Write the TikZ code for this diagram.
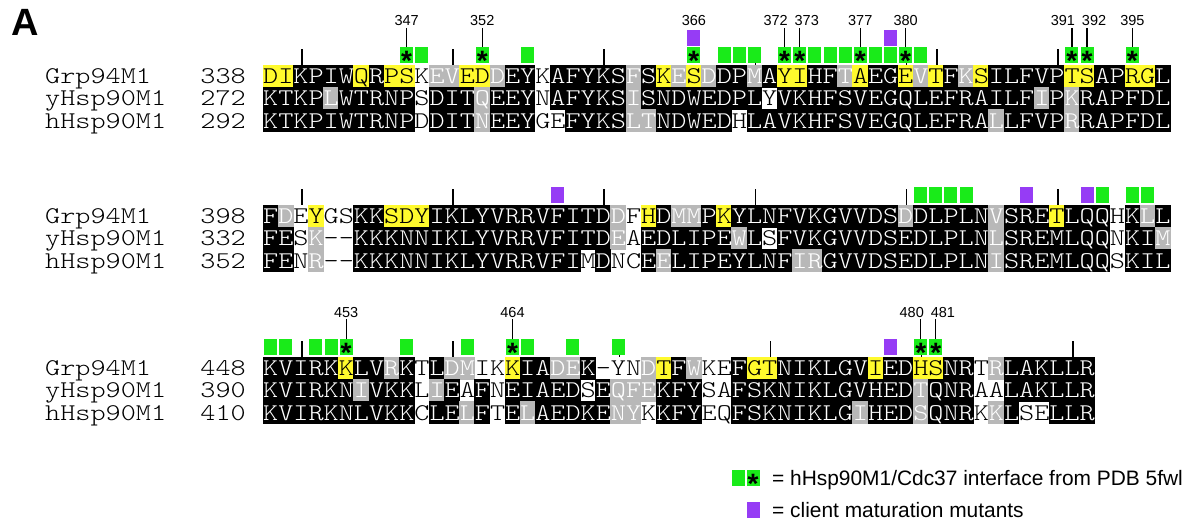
\documentclass[tikz,border=0pt]{standalone}
\usepackage{fontspec}
\setmainfont{Liberation Sans}
\newfontfamily\sansfam{Liberation Sans}
\newfontfamily\seqfam{lmmonolt10-regular.otf}[FakeStretch=1.2]
\definecolor{cgreen}{RGB}{25,235,25}
\definecolor{cpurple}{RGB}{150,60,245}
\definecolor{cgray}{RGB}{184,184,184}
\definecolor{cyel}{RGB}{255,250,45}

\makeatletter
\newcount\seqci
\newtoks\seqtoks
\def\seqcw{15.12}
\def\seqrh{22.3}
\def\seqbase{18.5}
\newcommand\seqrow[5]{%
  \seqci=0 \seqtoks={}%
  \def\seq@x{#2}\def\seq@t{#3}%
  \seq@loop#4\relax#5\relax
  \node[seqtext] (#1) at (#2,#3+\seqbase) {\the\seqtoks};%
}
\def\seq@loop#1#2\relax#3#4\relax{%
  \seq@cell{#1}{#3}%
  \advance\seqci by 1
  \ifx\relax#2\relax\expandafter\@gobble\else\expandafter\@firstofone\fi
  {\seq@loop#2\relax#4\relax}}
\def\seq@cell#1#2{%
  \pgfmathsetmacro\seq@cx{\seq@x+\the\seqci*\seqcw}%
  \ifx#2K\fill[black] (\seq@cx-0.3,\seq@t-0.3) rectangle ++(\seqcw+0.6,\seqrh+0.6);%
    \seqtoks=\expandafter{\the\seqtoks\textcolor{white}{#1}}\fi
  \ifx#2G\fill[cgray] (\seq@cx-0.3,\seq@t-0.3) rectangle ++(\seqcw+0.6,\seqrh+0.6);%
    \seqtoks=\expandafter{\the\seqtoks\textcolor{white}{#1}}\fi
  \ifx#2Y\fill[cyel] (\seq@cx-0.3,\seq@t-0.3) rectangle ++(\seqcw+0.6,\seqrh+0.6);%
    \seqtoks=\expandafter{\the\seqtoks\textcolor{black}{#1}}\fi
  \ifx#2W\seqtoks=\expandafter{\the\seqtoks\textcolor{black}{#1}}\fi
}
\makeatother
\newcommand\xc[1]{263+(#1+0.5)*15.12}
\newcommand\starglyph{\raisebox{-15.5pt}[5pt][5pt]{*}}

\tikzset{
  seqtext/.style={font=\seqfam\fontsize{24}{24}\selectfont, inner sep=0, anchor=base west},
  gbox/.style={fill=cgreen, minimum width=13pt, minimum height=16pt, inner sep=0},
  pbox/.style={fill=cpurple, minimum width=13pt, minimum height=16pt, inner sep=0},
  tickmark/.style={line width=1.5pt, black},
  lblline/.style={line width=1.2pt, black, shorten <=1.5pt},
  lbl/.style={font=\sansfam\fontsize{14.5}{14.5}\selectfont, inner sep=0},
  starsym/.style={font=\sansfam\bfseries\fontsize{28}{28}\selectfont, inner sep=0, anchor=center},
  legtext/.style={font=\sansfam\fontsize{20.9}{20.9}\selectfont, inner sep=0, anchor=base west},
}

\begin{document}
\begin{tikzpicture}[x=1pt,y=-1pt]
\useasboundingbox (0,0) rectangle (1201,523);
\fill[white] (0,0) rectangle (1201,523);

\node[font=\sansfam\bfseries\fontsize{38}{38}\selectfont, inner sep=0, anchor=base west] (panelA) at (11,35) {A};

% ---------- Block 1 (top 65) ----------
\foreach \i in {2,12,22,32,42,44,52} \draw[tickmark] ({\xc{\i}+1},49) -- ({\xc{\i}+1},65);
\seqrow{s1a}{263}{65}{DIKPIWQRPSKEVEDDEYKAFYKSFSKESDDPMAYIHFTAEGEVTFKSILFVPTSAPRGL}{YYKKKKYKYYWGGYYGKKWKKKKKGKYGYGKKGKYYKKGYKKYGYKGYKKKKKYYKKYYK}
\seqrow{s1b}{263}{87.3}{KTKPLWTRNPSDITQEEYNAFYKSISNDWEDPLYVKHFSVEGQLEFRAILFIPKRAPFDL}{KKKKGKKKKKWKKKGKKKWKKKKKGKKKKKKKKWKKKKKKKKKKKKKKKKKGKGKKKKKK}
\seqrow{s1c}{263}{109.6}{KTKPIWTRNPDDITNEEYGEFYKSLTNDWEDHLAVKHFSVEGQLEFRALLFVPRRAPFDL}{KKKKKKKKKKWKKKGKKKWWKKKKGGKKKKKWKKKKKKKKKKKKKKKKGKKKKGKKKKKK}
\node[seqtext] (n1a) at (45,83.5) {Grp94M1};
\node[seqtext] (n1b) at (45,105.8) {yHsp90M1};
\node[seqtext] (n1c) at (45,128.1) {hHsp90M1};
\node[seqtext,anchor=base east] (r1a) at (246,83.5) {338};
\node[seqtext,anchor=base east] (r1b) at (246,105.8) {272};
\node[seqtext,anchor=base east] (r1c) at (246,128.1) {292};

\foreach \i in {10,17,30,31,32,36,37,38,40,41,43} \node[gbox] (g1-\i) at ({\xc{\i}},55) {};
\foreach \i in {9,14,28,34,35,39,42,53,54,57} {
  \node[gbox] (g1-\i) at ({\xc{\i}},55) {};
  \node[starsym] (s1-\i) at (g1-\i.center) {\starglyph};
}
\foreach \i in {28,41} \node[pbox] (p1-\i) at ({\xc{\i}},37.5) {};

\foreach \n/\i/\d in {347/9/0,352/14/0,366/28/0,372/34/-9,373/35/7,377/39/0,380/42/0,391/53/-9,392/54/7,395/57/0}
  \node[lbl] (l\n) at ({\xc{\i}+\d},21) {\n};
\foreach \n/\i in {347/9,352/14,372/34,373/35,377/39,380/42,391/53,392/54,395/57}
  \draw[lblline] (g1-\i.north |- l\n.south) -- (g1-\i.north);

% ---------- Block 2 (top 205) ----------
\foreach \i in {2,12,22,32,42,52} \draw[tickmark] ({\xc{\i}+1},189) -- ({\xc{\i}+1},205);
\seqrow{s2a}{263}{205}{FDEYGSKKSDYIKLYVRRVFITDDFHDMMPKYLNFVKGVVDSDDLPLNVSRETLQQHKLL}{KGWYWWKKYYYKKKKKKKKKKKKGWYKGGKYKKKKKKKKKKKGKKKKKGKKKYKKKWKGK}
\seqrow{s2b}{263}{227.3}{FESK--KKKNNIKLYVRRVFITDEAEDLIPEWLSFVKGVVDSEDLPLNLSREMLQQNKIM}{KKWGWWKKKKKKKKKKKKKKKKKGWKKKKKKGKWKKKKKKKKKKKKKKGKKKKKKKWKKG}
\seqrow{s2c}{263}{249.6}{FENR--KKKNNIKLYVRRVFIMDNCEELIPEYLNFIRGVVDSEDLPLNISREMLQQSKIL}{KKWGWWKKKKKKKKKKKKKKKWKWWKGKKKKKKKKGGKKKKKKKKKKKGKKKKKKKWKKK}
\node[seqtext] (n2a) at (45,223.5) {Grp94M1};
\node[seqtext] (n2b) at (45,245.8) {yHsp90M1};
\node[seqtext] (n2c) at (45,268.1) {hHsp90M1};
\node[seqtext,anchor=base east] (r2a) at (246,223.5) {398};
\node[seqtext,anchor=base east] (r2b) at (246,245.8) {332};
\node[seqtext,anchor=base east] (r2c) at (246,268.1) {352};

\foreach \i in {43,44,45,46,55,57,58} \node[gbox] (g2-\i) at ({\xc{\i}},195) {};
\foreach \i in {19,50,54} \node[pbox] (p2-\i) at ({\xc{\i}},195) {};

% ---------- Block 3 (top 357) ----------
\foreach \i in {2,12,23,33,43,53} \draw[tickmark] ({\xc{\i}+1},341) -- ({\xc{\i}+1},357);
\seqrow{s3a}{263}{357}{KVIRKKLVRKTLDMIKKIADEK-YNDTFWKEFGTNIKLGVIEDHSNRTRLAKLLR}{KKKKKYKKGKWKGGWWYKKGGKWWWGYKGWWKYYKKKKKKYKKYYKKWGKKKKKK}
\seqrow{s3b}{263}{379.3}{KVIRKNIVKKLIEAFNEIAEDSEQFEKFYSAFSKNIKLGVHEDTQNRAALAKLLR}{KKKKKKGKKKWGKWKWKKKKKWKGGGKKKWWKKKKKKKKKKKKGKKKWWKKKKKK}
\seqrow{s3c}{263}{401.6}{KVIRKNLVKKCLELFTELAEDKENYKKFYEQFSKNIKLGIHEDSQNRKKLSELLR}{KKKKKKKKKKWKKGKWKGKKKKKGGWKKKWWKKKKKKKKGKKKGKKKWGKWWKKK}
\node[seqtext] (n3a) at (45,375.5) {Grp94M1};
\node[seqtext] (n3b) at (45,397.8) {yHsp90M1};
\node[seqtext] (n3c) at (45,420.1) {hHsp90M1};
\node[seqtext,anchor=base east] (r3a) at (246,375.5) {448};
\node[seqtext,anchor=base east] (r3b) at (246,397.8) {390};
\node[seqtext,anchor=base east] (r3c) at (246,420.1) {410};

\foreach \i in {0,1,3,4,9,13,17,20,23} \node[gbox] (g3-\i) at ({\xc{\i}},347) {};
\foreach \i in {5,16,43,44} {
  \node[gbox] (g3-\i) at ({\xc{\i}},347) {};
  \node[starsym] (s3-\i) at (g3-\i.center) {\starglyph};
}
\node[pbox] (p3-41) at ({\xc{41}},347) {};
\foreach \n/\i/\d in {453/5/0,464/16/0,480/43/-9,481/44/7}
  \node[lbl] (l\n) at ({\xc{\i}+\d},312) {\n};
\foreach \n/\i in {453/5,464/16,480/43,481/44}
  \draw[lblline] (g3-\i.north |- l\n.south) -- (g3-\i.north);

% ---------- Legend ----------
\node[gbox] (lg1) at (738,478) {};
\node[gbox] (lg2) at (753,478) {};
\node[starsym] (lgs) at (lg2.center) {\starglyph};
\node[legtext] (lt1) at (772,485.5) {= hHsp90M1/Cdc37 interface from PDB 5fwl};
\node[pbox] (lp) at (753,510) {};
\node[legtext] (lt2) at (772,517.5) {= client maturation mutants};
\end{tikzpicture}
\end{document}
